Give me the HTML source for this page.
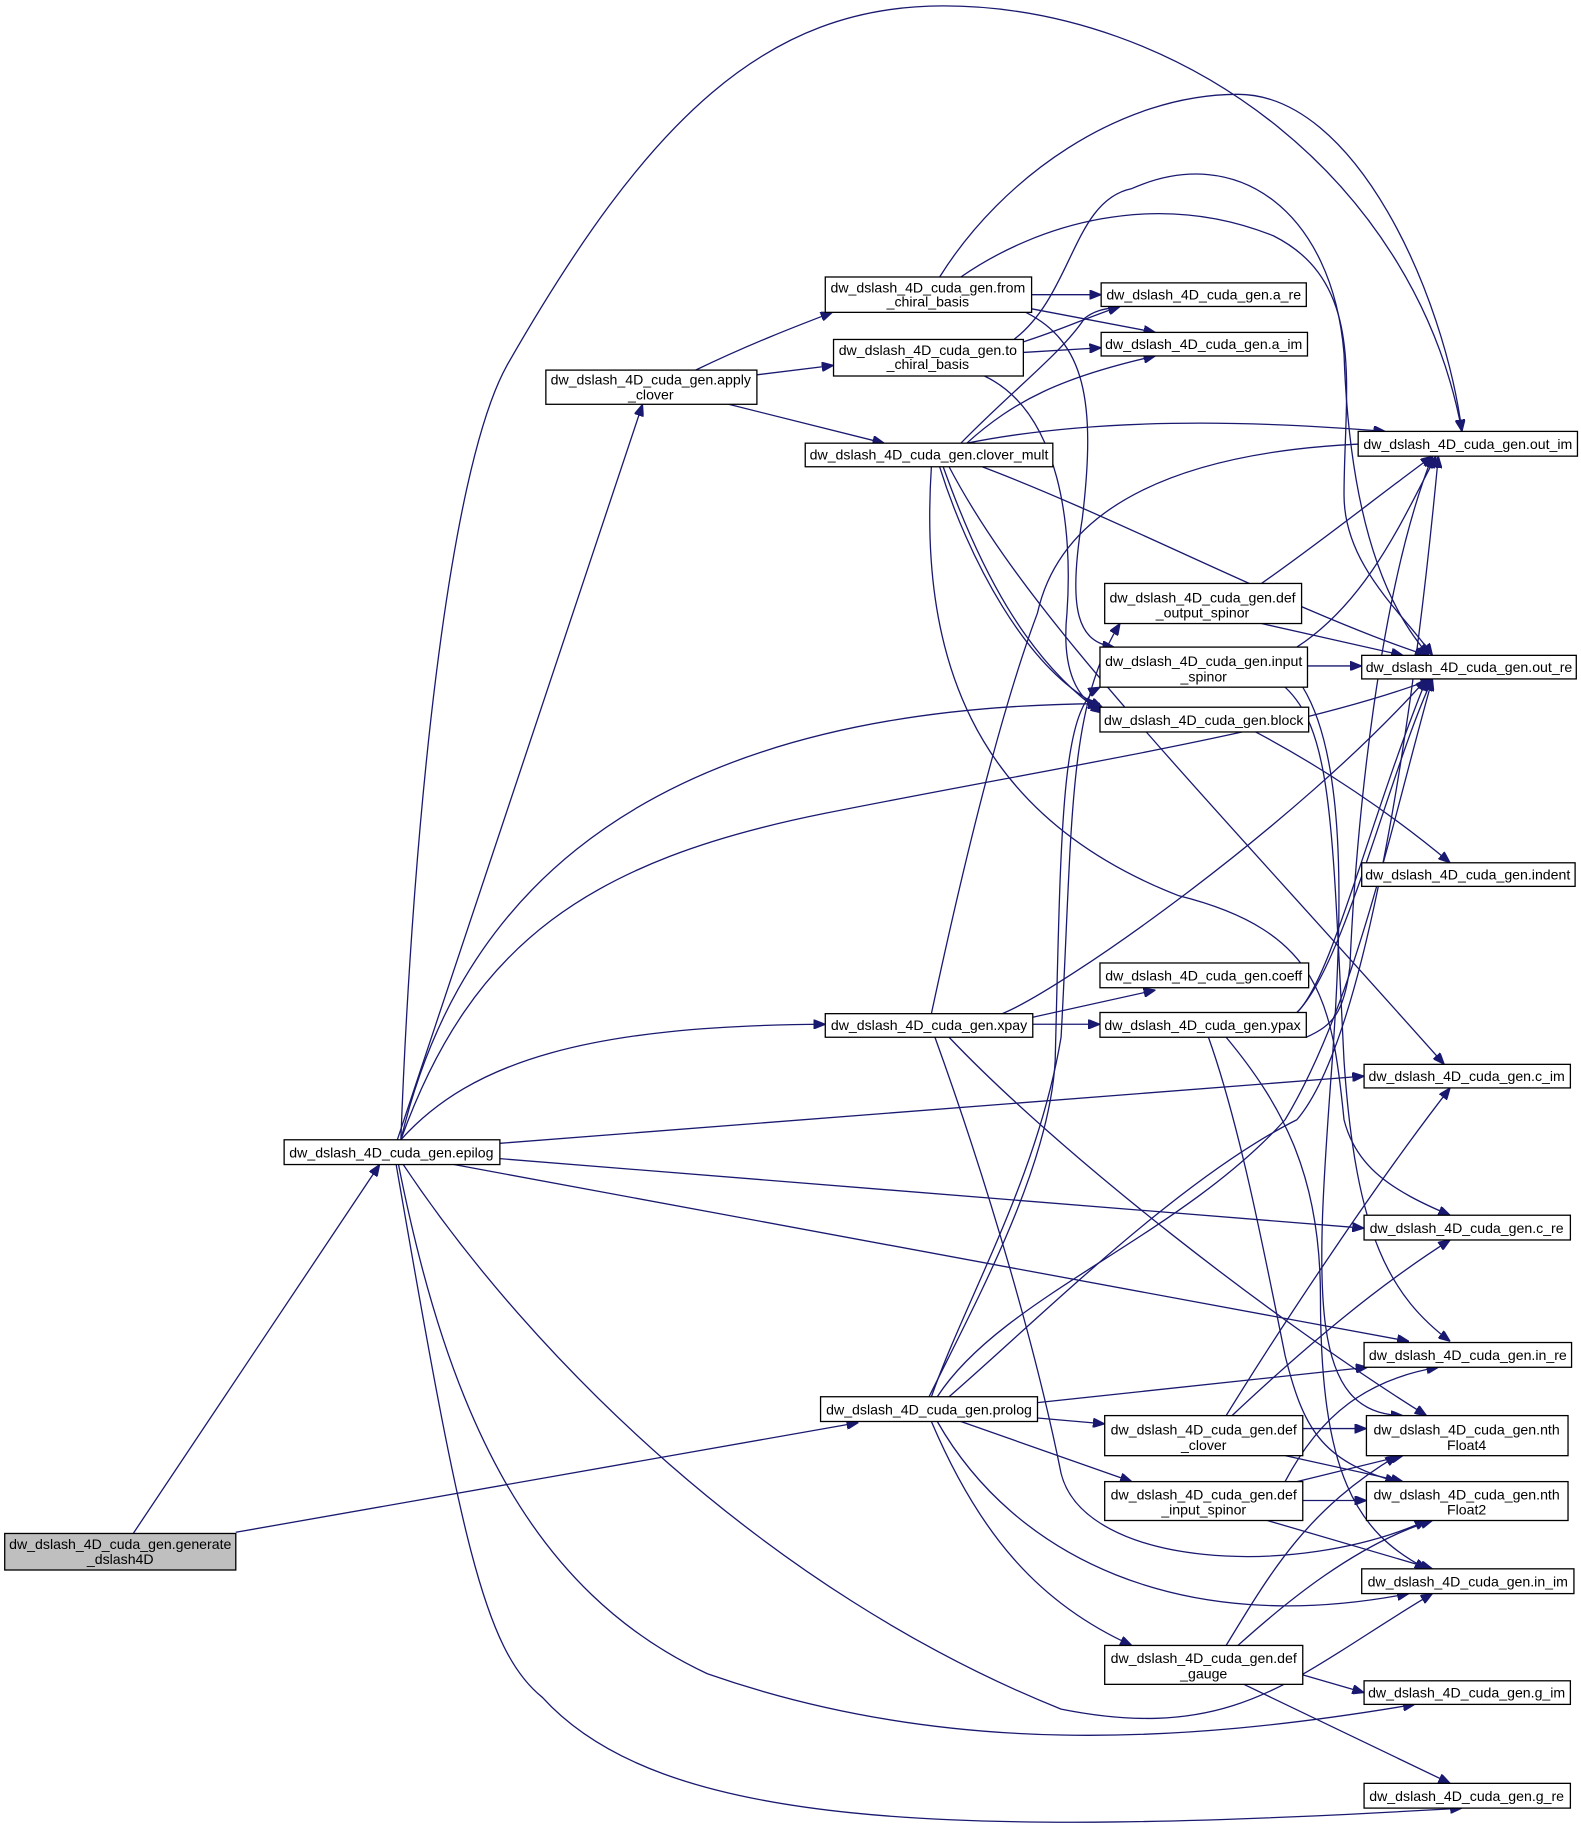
<!DOCTYPE html>
<html><head><meta charset="utf-8"><style>
html,body{margin:0;padding:0;background:#fff}
svg{display:block}
text{font-family:"Liberation Sans",sans-serif;font-size:12px;fill:#000}
.n{fill:#fff;stroke:#000;stroke-width:1.1}
.e{fill:none;stroke:#191970;stroke-width:1.1}
</style></head><body>
<svg width="1581" height="1847" viewBox="0 0 1341 1567" preserveAspectRatio="none" xmlns="http://www.w3.org/2000/svg">
<defs><marker id="a" viewBox="0 0 10 8" refX="10" refY="4" markerWidth="10" markerHeight="8" markerUnits="userSpaceOnUse" orient="auto"><path d="M0,0 L10,4 L0,8 z" fill="#191970" stroke="#191970"/></marker></defs>
<g class="e" marker-end="url(#a)">
<path d="M113,1301 L322,988"/>
<path d="M200,1300 L728,1207"/>
<path d="M337,967 L545,343"/>
<path d="M340,967 C350,700 380,400 430,310 C550,100 650,5 800,5 C1000,5 1200,150 1240,366"/>
<path d="M340,967 C380,800 500,600 933,597"/>
<path d="M340,967 C400,800 500,730 700,690 C900,650 1100,620 1215,576"/>
<path d="M340,967 C400,900 500,870 700,869"/>
<path d="M424,970 L1157,913"/>
<path d="M424,983 L1157,1042"/>
<path d="M385,988 L1195,1138"/>
<path d="M342,988 C450,1150 650,1350 900,1450 C1050,1480 1100,1420 1215,1352"/>
<path d="M338,988 C380,1200 450,1350 600,1420 C800,1490 1000,1480 1200,1446"/>
<path d="M336,988 C390,1300 410,1400 460,1440 C560,1550 800,1560 1240,1534"/>
<path d="M590,314 C640,290 680,275 706,265"/>
<path d="M642,318 L707,310"/>
<path d="M618,343 L750,376"/>
<path d="M875,250 L934,250"/>
<path d="M875,262 L980,282"/>
<path d="M797,235 C850,150 950,80 1050,80 C1150,80 1225,250 1240,366"/>
<path d="M815,235 C880,190 980,160 1080,200 C1160,240 1140,330 1140,420 C1140,480 1190,520 1215,556"/>
<path d="M870,265 C920,290 930,340 918,440 C905,520 915,545 945,549"/>
<path d="M860,288 C910,250 910,170 960,160 C1050,120 1130,180 1140,300 C1145,450 1180,520 1212,556"/>
<path d="M868,299 L934,295"/>
<path d="M868,290 C900,280 920,270 950,260"/>
<path d="M835,319 C900,350 910,450 905,520 C900,570 915,595 933,600"/>
<path d="M820,376 C860,340 900,320 980,302"/>
<path d="M815,376 C860,330 900,300 920,270 C930,262 940,262 950,260"/>
<path d="M820,376 C950,350 1100,360 1175,366"/>
<path d="M833,396 C950,440 1100,520 1210,556"/>
<path d="M800,396 C830,480 870,560 935,605"/>
<path d="M797,396 C820,470 870,570 935,600"/>
<path d="M805,396 C870,520 1000,650 1225,903"/>
<path d="M790,396 C780,550 820,690 1000,760 C1120,790 1130,850 1140,950 C1150,990 1180,1010 1230,1031"/>
<path d="M1070,495 C1120,460 1170,420 1215,387"/>
<path d="M1070,529 L1190,556"/>
<path d="M1109,565 L1155,565"/>
<path d="M1100,549 C1160,510 1190,440 1218,387"/>
<path d="M1090,583 C1130,620 1130,700 1140,900 C1150,1050 1180,1100 1230,1138"/>
<path d="M1105,583 C1140,640 1140,760 1130,900 C1115,1100 1110,1200 1190,1201"/>
<path d="M1065,621 C1120,650 1180,690 1230,732"/>
<path d="M1108,880 C1130,870 1140,860 1145,820 C1150,700 1170,500 1215,387"/>
<path d="M1100,859 C1130,830 1160,700 1210,576"/>
<path d="M1100,859 C1140,820 1180,650 1215,576"/>
<path d="M1025,880 C1050,950 1070,1050 1090,1150 C1105,1210 1120,1240 1185,1257"/>
<path d="M1040,880 C1090,940 1120,1000 1120,1100 C1120,1250 1150,1300 1210,1331"/>
<path d="M876,863 L980,840"/>
<path d="M876,869 L933,869"/>
<path d="M850,860 C900,840 1100,700 1210,576"/>
<path d="M790,860 C820,720 850,600 880,520 C900,430 1000,380 1175,376"/>
<path d="M805,880 C900,980 1080,1120 1210,1201"/>
<path d="M793,880 C840,1010 880,1150 900,1250 C920,1330 1100,1340 1210,1290"/>
<path d="M790,1185 C820,1100 880,1000 900,880 C910,700 905,600 950,529"/>
<path d="M788,1185 C830,1100 890,990 895,900 C900,700 900,600 933,583"/>
<path d="M795,1185 C850,1100 1000,1050 1090,950 C1150,850 1180,700 1215,576"/>
<path d="M805,1185 C880,1120 1000,1000 1100,950 C1160,880 1200,600 1220,387"/>
<path d="M880,1190 L1160,1160"/>
<path d="M880,1203 L937,1208"/>
<path d="M815,1206 L960,1257"/>
<path d="M790,1206 C830,1300 880,1360 960,1396"/>
<path d="M795,1206 C860,1320 1000,1390 1195,1352"/>
<path d="M1040,1201 C1090,1120 1170,1000 1230,923"/>
<path d="M1045,1201 C1110,1140 1170,1090 1230,1052"/>
<path d="M1105,1212 L1159,1212"/>
<path d="M1090,1235 L1190,1257"/>
<path d="M1090,1257 C1120,1200 1160,1170 1220,1160"/>
<path d="M1100,1257 L1190,1235"/>
<path d="M1105,1273 L1159,1273"/>
<path d="M1075,1290 L1215,1331"/>
<path d="M1040,1396 C1080,1330 1110,1280 1185,1235"/>
<path d="M1050,1396 C1090,1360 1150,1310 1215,1290"/>
<path d="M1105,1421 L1157,1436"/>
<path d="M1055,1429 L1230,1513"/>
</g>
<g>
<rect class="n" x="4" y="1301" width="196" height="31" style="fill:#bfbfbf"/>
<text x="102" y="1314" text-anchor="middle">dw_dslash_4D_cuda_gen.generate</text>
<text x="102" y="1327" text-anchor="middle">_dslash4D</text>
<rect class="n" x="241" y="967" width="183" height="21"/><text x="332" y="982" text-anchor="middle">dw_dslash_4D_cuda_gen.epilog</text>
<rect class="n" x="463" y="314" width="179" height="29"/><text x="552" y="326" text-anchor="middle">dw_dslash_4D_cuda_gen.apply</text><text x="552" y="339" text-anchor="middle">_clover</text>
<rect class="n" x="700" y="235" width="175" height="30"/><text x="787" y="248" text-anchor="middle">dw_dslash_4D_cuda_gen.from</text><text x="787" y="260" text-anchor="middle">_chiral_basis</text>
<rect class="n" x="707" y="288" width="161" height="31"/><text x="787" y="301" text-anchor="middle">dw_dslash_4D_cuda_gen.to</text><text x="787" y="313" text-anchor="middle">_chiral_basis</text>
<rect class="n" x="683" y="376" width="210" height="20"/><text x="788" y="390" text-anchor="middle">dw_dslash_4D_cuda_gen.clover_mult</text>
<rect class="n" x="700" y="860" width="176" height="20"/><text x="788" y="874" text-anchor="middle">dw_dslash_4D_cuda_gen.xpay</text>
<rect class="n" x="696" y="1185" width="184" height="21"/><text x="788" y="1200" text-anchor="middle">dw_dslash_4D_cuda_gen.prolog</text>
<rect class="n" x="934" y="240" width="174" height="20"/><text x="1021" y="254" text-anchor="middle">dw_dslash_4D_cuda_gen.a_re</text>
<rect class="n" x="934" y="282" width="175" height="20"/><text x="1021" y="296" text-anchor="middle">dw_dslash_4D_cuda_gen.a_im</text>
<rect class="n" x="1152" y="366" width="186" height="21"/><text x="1245" y="381" text-anchor="middle">dw_dslash_4D_cuda_gen.out_im</text>
<rect class="n" x="937" y="495" width="167" height="34"/><text x="1020" y="511" text-anchor="middle">dw_dslash_4D_cuda_gen.def</text><text x="1020" y="524" text-anchor="middle">_output_spinor</text>
<rect class="n" x="933" y="549" width="176" height="34"/><text x="1021" y="565" text-anchor="middle">dw_dslash_4D_cuda_gen.input</text><text x="1021" y="578" text-anchor="middle">_spinor</text>
<rect class="n" x="1155" y="556" width="182" height="20"/><text x="1246" y="570" text-anchor="middle">dw_dslash_4D_cuda_gen.out_re</text>
<rect class="n" x="933" y="600" width="177" height="21"/><text x="1021" y="615" text-anchor="middle">dw_dslash_4D_cuda_gen.block</text>
<rect class="n" x="1155" y="732" width="181" height="20"/><text x="1245" y="746" text-anchor="middle">dw_dslash_4D_cuda_gen.indent</text>
<rect class="n" x="933" y="817" width="177" height="21"/><text x="1021" y="832" text-anchor="middle">dw_dslash_4D_cuda_gen.coeff</text>
<rect class="n" x="933" y="859" width="175" height="21"/><text x="1020" y="874" text-anchor="middle">dw_dslash_4D_cuda_gen.ypax</text>
<rect class="n" x="1157" y="903" width="175" height="20"/><text x="1244" y="917" text-anchor="middle">dw_dslash_4D_cuda_gen.c_im</text>
<rect class="n" x="1157" y="1031" width="175" height="21"/><text x="1244" y="1046" text-anchor="middle">dw_dslash_4D_cuda_gen.c_re</text>
<rect class="n" x="1157" y="1139" width="176" height="21"/><text x="1245" y="1154" text-anchor="middle">dw_dslash_4D_cuda_gen.in_re</text>
<rect class="n" x="937" y="1201" width="168" height="34"/><text x="1021" y="1217" text-anchor="middle">dw_dslash_4D_cuda_gen.def</text><text x="1021" y="1230" text-anchor="middle">_clover</text>
<rect class="n" x="1159" y="1201" width="171" height="34"/><text x="1244" y="1217" text-anchor="middle">dw_dslash_4D_cuda_gen.nth</text><text x="1244" y="1230" text-anchor="middle">Float4</text>
<rect class="n" x="937" y="1257" width="168" height="33"/><text x="1021" y="1272" text-anchor="middle">dw_dslash_4D_cuda_gen.def</text><text x="1021" y="1285" text-anchor="middle">_input_spinor</text>
<rect class="n" x="1159" y="1257" width="171" height="33"/><text x="1244" y="1272" text-anchor="middle">dw_dslash_4D_cuda_gen.nth</text><text x="1244" y="1285" text-anchor="middle">Float2</text>
<rect class="n" x="1155" y="1331" width="180" height="21"/><text x="1245" y="1346" text-anchor="middle">dw_dslash_4D_cuda_gen.in_im</text>
<rect class="n" x="937" y="1396" width="168" height="33"/><text x="1021" y="1411" text-anchor="middle">dw_dslash_4D_cuda_gen.def</text><text x="1021" y="1424" text-anchor="middle">_gauge</text>
<rect class="n" x="1157" y="1426" width="175" height="20"/><text x="1244" y="1440" text-anchor="middle">dw_dslash_4D_cuda_gen.g_im</text>
<rect class="n" x="1157" y="1513" width="175" height="21"/><text x="1244" y="1528" text-anchor="middle">dw_dslash_4D_cuda_gen.g_re</text>
</g>
</svg>
</body></html>
